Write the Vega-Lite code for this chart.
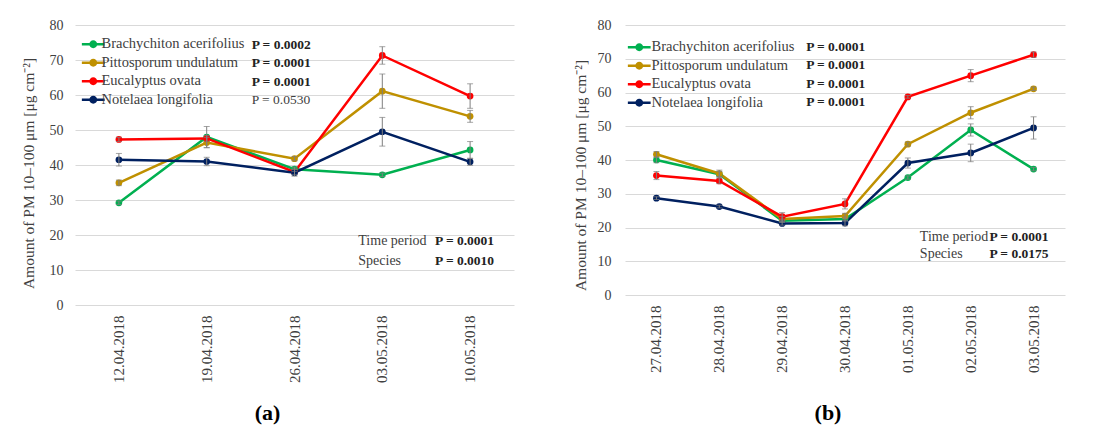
{
  "$schema": "https://vega.github.io/schema/vega-lite/v6.json",
  "background": "white",
  "padding": {"left": 21, "top": 18, "right": 5, "bottom": 5},
  "config": {
    "font": "Liberation Serif",
    "view": {"stroke": null},
    "axis": {
      "labelFont": "Liberation Serif",
      "titleFont": "Liberation Serif",
      "labelFontSize": 14,
      "titleFontSize": 15.5,
      "titleFontWeight": "normal",
      "labelColor": "#404040",
      "titleColor": "#404040",
      "domain": false,
      "ticks": false,
      "gridColor": "#d9d9d9",
      "gridWidth": 1
    },
    "legend": {
      "labelFont": "Liberation Serif",
      "labelFontSize": 14.5,
      "labelColor": "#404040",
      "padding": 0
    }
  },
  "resolve": {"scale": {"color": "independent"}, "legend": {"color": "independent"}},
  "spacing": 59,
  "hconcat": [
    {
      "width": 439,
      "height": 280,
      "title": {"text": "(a)", "orient": "bottom", "frame": "bounds", "anchor": "middle", "fontSize": 22, "fontWeight": "bold", "font": "Liberation Serif", "color": "#000000", "offset": 20, "dx": 0},
      "data": {"values": [
        {"date": "12.04.2018", "species": "Brachychiton acerifolius", "v": 29.2, "e": 0.5},
        {"date": "19.04.2018", "species": "Brachychiton acerifolius", "v": 48.0, "e": 3.0},
        {"date": "26.04.2018", "species": "Brachychiton acerifolius", "v": 38.8, "e": 0.6},
        {"date": "03.05.2018", "species": "Brachychiton acerifolius", "v": 37.2, "e": 0.5},
        {"date": "10.05.2018", "species": "Brachychiton acerifolius", "v": 44.3, "e": 2.4},
        {"date": "12.04.2018", "species": "Pittosporum undulatum", "v": 34.9, "e": 0.8},
        {"date": "19.04.2018", "species": "Pittosporum undulatum", "v": 46.4, "e": 1.5},
        {"date": "26.04.2018", "species": "Pittosporum undulatum", "v": 41.8, "e": 0.6},
        {"date": "03.05.2018", "species": "Pittosporum undulatum", "v": 61.1, "e": 4.9},
        {"date": "10.05.2018", "species": "Pittosporum undulatum", "v": 53.9, "e": 1.7},
        {"date": "12.04.2018", "species": "Eucalyptus ovata", "v": 47.3, "e": 0.6},
        {"date": "19.04.2018", "species": "Eucalyptus ovata", "v": 47.6, "e": 0.8},
        {"date": "26.04.2018", "species": "Eucalyptus ovata", "v": 38.0, "e": 0.8},
        {"date": "03.05.2018", "species": "Eucalyptus ovata", "v": 71.3, "e": 2.5},
        {"date": "10.05.2018", "species": "Eucalyptus ovata", "v": 59.7, "e": 3.5},
        {"date": "12.04.2018", "species": "Notelaea longifolia", "v": 41.5, "e": 1.8},
        {"date": "19.04.2018", "species": "Notelaea longifolia", "v": 41.0, "e": 1.2},
        {"date": "26.04.2018", "species": "Notelaea longifolia", "v": 37.8, "e": 1.0},
        {"date": "03.05.2018", "species": "Notelaea longifolia", "v": 49.5, "e": 4.1},
        {"date": "10.05.2018", "species": "Notelaea longifolia", "v": 40.9, "e": 1.0}
      ]},
      "layer": [
        {
          "mark": {"type": "line", "strokeWidth": 2.5, "point": {"filled": true, "size": 45}},
          "encoding": {
            "x": {"field": "date", "type": "nominal", "scale": {"domain": ["12.04.2018", "19.04.2018", "26.04.2018", "03.05.2018", "10.05.2018"]},
                  "axis": {"title": null, "labelAngle": -90, "labelPadding": 10, "labelFontSize": 15, "grid": false}},
            "y": {"field": "v", "type": "quantitative", "scale": {"domain": [0, 80]},
                  "axis": {"title": "Amount of PM 10–100 μm [μg cm⁻²]", "tickCount": 9, "labelPadding": 12, "titlePadding": 13, "titleY": 148, "grid": true}},
            "color": {"field": "species", "type": "nominal",
              "scale": {"domain": ["Brachychiton acerifolius", "Pittosporum undulatum", "Eucalyptus ovata", "Notelaea longifolia"], "range": ["#00b050", "#bf9000", "#ff0000", "#002060"]},
              "legend": {"orient": "none", "legendX": 11, "legendY": 12, "title": null, "symbolType": "M-3.8,0L3.8,0M-0.9,0A0.9,0.9,0,1,1,0.9,0A0.9,0.9,0,1,1,-0.9,0Z", "symbolSize": 36, "symbolStrokeWidth": 2.5, "labelOffset": 1, "rowPadding": 2.5}}
          }
        },
        {
          "mark": {"type": "errorbar", "ticks": {"size": 6}, "color": "#7f7f7f", "thickness": 1},
          "encoding": {
            "x": {"field": "date", "type": "nominal", "axis": {"title": null, "labelAngle": -90, "labelPadding": 10, "labelFontSize": 15, "grid": false}},
            "y": {"field": "v", "type": "quantitative", "axis": {"title": "Amount of PM 10–100 μm [μg cm⁻²]", "tickCount": 9, "labelPadding": 12, "titlePadding": 13, "titleY": 148, "grid": true}},
            "yError": {"field": "e"}
          }
        },
        {
          "data": {"values": [{"k": 1}]},
          "mark": {"type": "text", "font": "Liberation Serif", "align": "left", "baseline": "middle", "fontSize": 13.5, "fontWeight": "bold", "color": "#222222", "lineHeight": 18.5, "dx": 45, "text": ["P = 0.0002", "P = 0.0001", "P = 0.0001"]},
          "encoding": {"x": {"datum": "19.04.2018"}, "y": {"datum": 74.3}}
        },
        {
          "data": {"values": [{"k": 1}]},
          "mark": {"type": "text", "font": "Liberation Serif", "align": "left", "baseline": "middle", "fontSize": 13.5, "color": "#404040", "dx": 45, "text": "P = 0.0530"},
          "encoding": {"x": {"datum": "19.04.2018"}, "y": {"datum": 58.6}}
        },
        {
          "data": {"values": [{"k": 1}]},
          "mark": {"type": "text", "font": "Liberation Serif", "align": "left", "baseline": "middle", "fontSize": 14, "color": "#404040", "lineHeight": 20, "dx": -24, "text": ["Time period", "Species"]},
          "encoding": {"x": {"datum": "03.05.2018"}, "y": {"datum": 18.3}}
        },
        {
          "data": {"values": [{"k": 1}]},
          "mark": {"type": "text", "font": "Liberation Serif", "align": "right", "baseline": "middle", "fontSize": 13.5, "fontWeight": "bold", "color": "#222222", "lineHeight": 20, "dx": 24, "text": ["P = 0.0001", "P = 0.0010"]},
          "encoding": {"x": {"datum": "10.05.2018"}, "y": {"datum": 18.3}}
        }
      ]
    },
    {
      "width": 440,
      "height": 270,
      "title": {"text": "(b)", "orient": "bottom", "frame": "bounds", "anchor": "middle", "fontSize": 22, "fontWeight": "bold", "font": "Liberation Serif", "color": "#000000", "offset": 30, "dx": 9},
      "data": {"values": [
        {"date": "27.04.2018", "species": "Brachychiton acerifolius", "v": 40.0, "e": 0.8},
        {"date": "28.04.2018", "species": "Brachychiton acerifolius", "v": 35.8, "e": 0.8},
        {"date": "29.04.2018", "species": "Brachychiton acerifolius", "v": 22.0, "e": 0.5},
        {"date": "30.04.2018", "species": "Brachychiton acerifolius", "v": 22.5, "e": 0.6},
        {"date": "01.05.2018", "species": "Brachychiton acerifolius", "v": 34.8, "e": 0.5},
        {"date": "02.05.2018", "species": "Brachychiton acerifolius", "v": 48.9, "e": 1.8},
        {"date": "03.05.2018", "species": "Brachychiton acerifolius", "v": 37.3, "e": 0.5},
        {"date": "27.04.2018", "species": "Pittosporum undulatum", "v": 41.7, "e": 0.8},
        {"date": "28.04.2018", "species": "Pittosporum undulatum", "v": 36.0, "e": 1.0},
        {"date": "29.04.2018", "species": "Pittosporum undulatum", "v": 22.5, "e": 0.8},
        {"date": "30.04.2018", "species": "Pittosporum undulatum", "v": 23.4, "e": 0.8},
        {"date": "01.05.2018", "species": "Pittosporum undulatum", "v": 44.7, "e": 0.6},
        {"date": "02.05.2018", "species": "Pittosporum undulatum", "v": 54.0, "e": 1.8},
        {"date": "03.05.2018", "species": "Pittosporum undulatum", "v": 61.1, "e": 0.5},
        {"date": "27.04.2018", "species": "Eucalyptus ovata", "v": 35.4, "e": 1.2},
        {"date": "28.04.2018", "species": "Eucalyptus ovata", "v": 33.8, "e": 0.8},
        {"date": "29.04.2018", "species": "Eucalyptus ovata", "v": 23.2, "e": 1.2},
        {"date": "30.04.2018", "species": "Eucalyptus ovata", "v": 27.0, "e": 1.5},
        {"date": "01.05.2018", "species": "Eucalyptus ovata", "v": 58.7, "e": 0.4},
        {"date": "02.05.2018", "species": "Eucalyptus ovata", "v": 65.0, "e": 1.8},
        {"date": "03.05.2018", "species": "Eucalyptus ovata", "v": 71.2, "e": 0.8},
        {"date": "27.04.2018", "species": "Notelaea longifolia", "v": 28.7, "e": 0.4},
        {"date": "28.04.2018", "species": "Notelaea longifolia", "v": 26.2, "e": 0.4},
        {"date": "29.04.2018", "species": "Notelaea longifolia", "v": 21.2, "e": 0.5},
        {"date": "30.04.2018", "species": "Notelaea longifolia", "v": 21.3, "e": 0.8},
        {"date": "01.05.2018", "species": "Notelaea longifolia", "v": 39.1, "e": 1.5},
        {"date": "02.05.2018", "species": "Notelaea longifolia", "v": 42.1, "e": 2.6},
        {"date": "03.05.2018", "species": "Notelaea longifolia", "v": 49.5, "e": 3.3}
      ]},
      "layer": [
        {
          "mark": {"type": "line", "strokeWidth": 2.5, "point": {"filled": true, "size": 45}},
          "encoding": {
            "x": {"field": "date", "type": "nominal", "scale": {"domain": ["27.04.2018", "28.04.2018", "29.04.2018", "30.04.2018", "01.05.2018", "02.05.2018", "03.05.2018"]},
                  "axis": {"title": null, "labelAngle": -90, "labelPadding": 10, "labelFontSize": 15, "grid": false}},
            "y": {"field": "v", "type": "quantitative", "scale": {"domain": [0, 80]},
                  "axis": {"title": "Amount of PM 10–100 μm [μg cm⁻²]", "tickCount": 9, "labelPadding": 14, "titlePadding": 9, "titleY": 150, "grid": true}},
            "color": {"field": "species", "type": "nominal",
              "scale": {"domain": ["Brachychiton acerifolius", "Pittosporum undulatum", "Eucalyptus ovata", "Notelaea longifolia"], "range": ["#00b050", "#bf9000", "#ff0000", "#002060"]},
              "legend": {"orient": "none", "legendX": 7, "legendY": 15, "title": null, "symbolType": "M-3.8,0L3.8,0M-0.9,0A0.9,0.9,0,1,1,0.9,0A0.9,0.9,0,1,1,-0.9,0Z", "symbolSize": 36, "symbolStrokeWidth": 2.5, "labelOffset": 5, "rowPadding": 2.5}}
          }
        },
        {
          "mark": {"type": "errorbar", "ticks": {"size": 6}, "color": "#7f7f7f", "thickness": 1},
          "encoding": {
            "x": {"field": "date", "type": "nominal", "axis": {"title": null, "labelAngle": -90, "labelPadding": 10, "labelFontSize": 15, "grid": false}},
            "y": {"field": "v", "type": "quantitative", "axis": {"title": "Amount of PM 10–100 μm [μg cm⁻²]", "tickCount": 9, "labelPadding": 14, "titlePadding": 9, "titleY": 150, "grid": true}},
            "yError": {"field": "e"}
          }
        },
        {
          "data": {"values": [{"k": 1}]},
          "mark": {"type": "text", "font": "Liberation Serif", "align": "left", "baseline": "middle", "fontSize": 13.5, "fontWeight": "bold", "color": "#222222", "lineHeight": 18.3, "dx": 24, "text": ["P = 0.0001", "P = 0.0001", "P = 0.0001", "P = 0.0001"]},
          "encoding": {"x": {"datum": "29.04.2018"}, "y": {"datum": 73.5}}
        },
        {
          "data": {"values": [{"k": 1}]},
          "mark": {"type": "text", "font": "Liberation Serif", "align": "left", "baseline": "middle", "fontSize": 14, "color": "#404040", "lineHeight": 17, "dx": 12, "text": ["Time period", "Species"]},
          "encoding": {"x": {"datum": "01.05.2018"}, "y": {"datum": 17.2}}
        },
        {
          "data": {"values": [{"k": 1}]},
          "mark": {"type": "text", "font": "Liberation Serif", "align": "right", "baseline": "middle", "fontSize": 13.5, "fontWeight": "bold", "color": "#222222", "lineHeight": 17, "dx": 15, "text": ["P = 0.0001", "P = 0.0175"]},
          "encoding": {"x": {"datum": "03.05.2018"}, "y": {"datum": 17.2}}
        }
      ]
    }
  ]
}
